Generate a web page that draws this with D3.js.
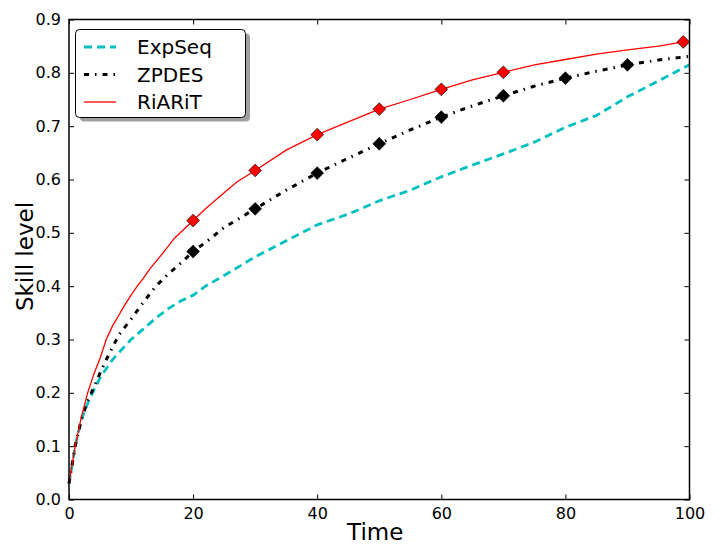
<!DOCTYPE html>
<html lang="en">
<head>
<meta charset="UTF-8">
<title>skill level</title>
<script src="https://cdn.jsdelivr.net/npm/d3@7/dist/d3.min.js"></script>
<style>
  body { margin: 0; background: #fff; }
  text { font-family: "DejaVu Sans", sans-serif; }
</style>
</head>
<body>
<div id="chart"></div>
<script>
// values
let timeSteps = [0, 1, 2, 3, 4, 5, 6, 7, 8, 10, 12, 14, 16, 18, 20, 22, 25, 30, 35, 40, 45, 50, 55, 60, 65, 70, 75, 80, 85, 90, 95, 100];
let expSeq = [0.03, 0.10, 0.15, 0.18, 0.205, 0.228, 0.245, 0.262, 0.275, 0.30, 0.32, 0.34, 0.358, 0.372, 0.383, 0.40, 0.42, 0.455, 0.485, 0.515, 0.535, 0.56, 0.58, 0.605, 0.627, 0.648, 0.67, 0.698, 0.72, 0.755, 0.785, 0.815];
let zpdes = [0.03, 0.10, 0.15, 0.185, 0.21, 0.237, 0.262, 0.285, 0.308, 0.338, 0.37, 0.40, 0.423, 0.443, 0.465, 0.482, 0.51, 0.545, 0.58, 0.612, 0.64, 0.667, 0.693, 0.717, 0.738, 0.757, 0.775, 0.79, 0.803, 0.815, 0.824, 0.831];
let riaritTime = [0, 1, 2, 3, 4, 5, 6, 7, 8, 9, 10, 11, 12, 13, 15, 17, 20, 22, 25, 27, 30, 35, 40, 45, 50, 55, 60, 65, 70, 75, 80, 85, 90, 95, 99];
let riarit = [0.03, 0.10, 0.155, 0.20, 0.235, 0.265, 0.30, 0.325, 0.345, 0.365, 0.383, 0.40, 0.415, 0.432, 0.46, 0.49, 0.523, 0.545, 0.575, 0.595, 0.617, 0.655, 0.684, 0.708, 0.732, 0.75, 0.769, 0.787, 0.801, 0.815, 0.825, 0.835, 0.843, 0.85, 0.858];
let zpdesMarks = [20, 30, 40, 50, 60, 70, 80, 90];
let riaritMarks = [20, 30, 40, 50, 60, 70, 99];
let xTicks = [0, 20, 40, 60, 80, 100];
let yTicks = [0, 0.1, 0.2, 0.3, 0.4, 0.5, 0.6, 0.7, 0.8, 0.9];
let seriesNames = ['ExpSeq', 'ZPDES', 'RiARiT'];

let width = 720, height = 560;
let padding = { top: 19.5, right: 30.5, bottom: 60.5, left: 69 };

let svg = d3.select('#chart').append('svg')
  .attr('width', width)
  .attr('height', height);

let x = d3.scaleLinear().domain([0, 100]).range([padding.left, width - padding.right]);
let y = d3.scaleLinear().domain([0, 0.9]).range([height - padding.bottom, padding.top]);

let line = d3.line().x(d => x(d[0])).y(d => y(d[1]));

let styles = [
  { color: '#00bfbf', width: 2.8, dash: '8,5' },
  { color: '#000', width: 3, dash: '5,6,1.5,6' },
  { color: '#ff0000', width: 1.3, dash: null }
];

let seriesData = [
  timeSteps.map((t, i) => [t, expSeq[i]]),
  timeSteps.map((t, i) => [t, zpdes[i]]),
  riaritTime.map((t, i) => [t, riarit[i]])
];

let plot = svg.append('g');
seriesData.forEach((d, i) => {
  plot.append('path')
    .attr('d', line(d))
    .attr('fill', 'none')
    .attr('stroke', styles[i].color)
    .attr('stroke-width', styles[i].width)
    .attr('stroke-dasharray', styles[i].dash);
});

let diamond = d3.symbol().type(d3.symbolSquare).size(82);
function markers(times, ts, vals, fill) {
  plot.selectAll(null).data(times).enter().append('path')
    .attr('d', diamond)
    .attr('transform', t => 'translate(' + x(t) + ',' + y(vals[ts.indexOf(t)]) + ') rotate(45)')
    .attr('fill', fill)
    .attr('stroke', '#000')
    .attr('stroke-width', 0.6);
}
markers(zpdesMarks, timeSteps, zpdes, '#000');
markers(riaritMarks, riaritTime, riarit, '#ff0000');

// axes, ticks inward on all four sides
let x0 = padding.left, x1 = width - padding.right;
let y0 = height - padding.bottom, y1 = padding.top;

svg.append('g').attr('transform', 'translate(0,' + y0 + ')')
  .call(d3.axisBottom(x).tickValues(xTicks).tickSizeInner(-5).tickSizeOuter(0).tickPadding(8).tickFormat(d3.format('d')));
svg.append('g').attr('transform', 'translate(0,' + y1 + ')')
  .call(d3.axisTop(x).tickValues(xTicks).tickSizeInner(-5).tickSizeOuter(0).tickFormat(''));
svg.append('g').attr('transform', 'translate(' + x0 + ',0)')
  .call(d3.axisLeft(y).tickValues(yTicks).tickSizeInner(-5).tickSizeOuter(0).tickPadding(8).tickFormat(d3.format('.1f')));
svg.append('g').attr('transform', 'translate(' + x1 + ',0)')
  .call(d3.axisRight(y).tickValues(yTicks).tickSizeInner(-5).tickSizeOuter(0).tickFormat(''));

svg.selectAll('.domain').remove();
svg.selectAll('.tick line').attr('stroke', '#000').attr('stroke-width', 1);
svg.selectAll('.tick text').attr('font-size', 16).attr('fill', '#000')
  .style('font-family', '"DejaVu Sans", sans-serif');

svg.append('rect')
  .attr('x', x0).attr('y', y1)
  .attr('width', x1 - x0).attr('height', y0 - y1)
  .attr('fill', 'none').attr('stroke', '#000').attr('stroke-width', 1.5);

svg.append('text')
  .attr('x', (x0 + x1) / 2 - 4).attr('y', 540)
  .attr('text-anchor', 'middle').attr('font-size', 23)
  .text('Time');
svg.append('text')
  .attr('transform', 'translate(33,' + ((y0 + y1) / 2 - 3) + ') rotate(-90)')
  .attr('text-anchor', 'middle').attr('font-size', 23)
  .text('Skill level');

// legend
let legend = svg.append('g');
legend.append('rect')
  .attr('x', 80).attr('y', 33.5).attr('width', 170).attr('height', 88).attr('rx', 4)
  .attr('fill', '#808080').attr('opacity', 0.75);
legend.append('rect')
  .attr('x', 75.5).attr('y', 29.5).attr('width', 170).attr('height', 88).attr('rx', 4)
  .attr('fill', '#fff').attr('stroke', '#000').attr('stroke-width', 1);

seriesNames.forEach((name, i) => {
  let ly = 47 + i * 27.5;
  legend.append('line')
    .attr('x1', 84).attr('x2', 116).attr('y1', ly).attr('y2', ly)
    .attr('stroke', styles[i].color)
    .attr('stroke-width', styles[i].width)
    .attr('stroke-dasharray', styles[i].dash);
  legend.append('text')
    .attr('x', 137).attr('y', ly + 7)
    .attr('font-size', 20)
    .text(name);
});
</script>
</body>
</html>
